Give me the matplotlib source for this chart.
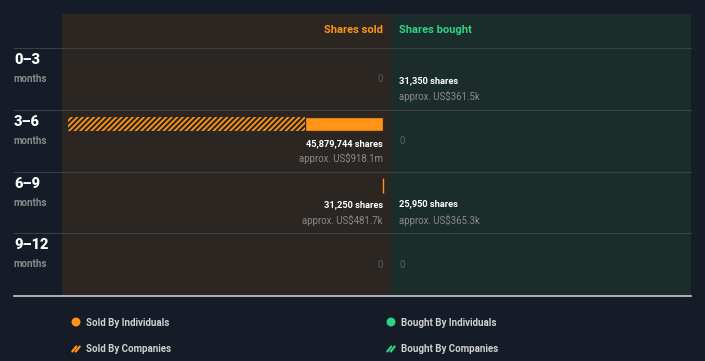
import matplotlib.pyplot as plt
import matplotlib.patches as mpatches

plt.rcParams['font.family'] = ['Roboto', 'DejaVu Sans']
plt.rcParams['hatch.linewidth'] = 1.3

periods = ['0–3', '3–6', '6–9', '9–12']
sold_individuals = [0, 11379744, 31250, 0]
sold_companies = [0, 34500000, 0, 0]
bought_individuals = [31350, 0, 25950, 0]
bought_companies = [0, 0, 0, 0]
sold_totals = ['0', '45,879,744 shares', '31,250 shares', '0']
sold_values = ['', 'approx. US$918.1m', 'approx. US$481.7k', '']
bought_totals = ['31,350 shares', '0', '25,950 shares', '0']
bought_values = ['approx. US$361.5k', '', 'approx. US$365.3k', '']

BG = '#151b27'
SOLD_BG = '#2b2621'
BOUGHT_BG = '#1a2d2b'
ORANGE = '#ff9416'
GREEN = '#2dd282'
GREY = '#8a8a8a'
DIM = '#5c5f60'

W, H = 705, 361
fig = plt.figure(figsize=(W / 100, H / 100), dpi=100)
fig.patch.set_facecolor(BG)

def fx(px):
    return px / W

def fy(py):
    return 1 - py / H

top, bot = 14, 295
header = 34
row_h = (bot - top - header) / 4
vmax = max(s + c for s, c in zip(sold_individuals, sold_companies))
s = vmax / 315.0  # shares per pixel

ax_s = fig.add_axes([fx(62), fy(bot), fx(391 - 62), (bot - top) / H])
ax_b = fig.add_axes([fx(391), fy(bot), fx(691 - 391), (bot - top) / H])
ylim = (4, -header / row_h)
ax_s.set_xlim(321 * s, -8 * s)
ax_b.set_xlim(-8 * s, 292 * s)
for ax, col in ((ax_s, SOLD_BG), (ax_b, BOUGHT_BG)):
    ax.set_ylim(*ylim)
    ax.set_facecolor(col)
    for sp in ax.spines.values():
        sp.set_visible(False)
    ax.set_xticks([])
    ax.set_yticks([])

ys = [i + 0.226 for i in range(4)]
bh = 0.23

# sold bars
for i in range(4):
    if sold_individuals[i] + sold_companies[i] == 0:
        continue
    ax_s.barh(ys[i], sold_individuals[i], height=bh, color=ORANGE,
              edgecolor=ORANGE if sold_individuals[i] < 3 * s else '#3a2a14',
              linewidth=1.0)
    if sold_companies[i] > 0:
        ax_s.barh(ys[i], sold_companies[i], left=sold_individuals[i], height=bh,
                  facecolor=SOLD_BG, edgecolor=ORANGE, hatch='//////', linewidth=0)

# bought bars
for i in range(4):
    if bought_individuals[i] > 3 * s:
        ax_b.barh(ys[i], bought_individuals[i], height=bh, color=GREEN)
    if bought_companies[i] > 3 * s:
        ax_b.barh(ys[i], bought_companies[i], left=bought_individuals[i],
                  height=bh, facecolor=BOUGHT_BG, edgecolor=GREEN, hatch='//////',
                  linewidth=0)

# labels
for i in range(4):
    if sold_values[i]:
        ax_s.text(0, i + 0.545, sold_totals[i], ha='right', va='center',
                  color='white', fontsize=6.7, fontweight='bold')
        ax_s.text(0, i + 0.79, sold_values[i], ha='right', va='center',
                  color=GREY, fontsize=6.9)
    else:
        ax_s.text(0, i + 0.51, sold_totals[i], ha='right', va='center',
                  color=DIM, fontsize=6.9)
    if bought_values[i]:
        ax_b.text(0, i + 0.525, bought_totals[i], ha='left', va='center',
                  color='white', fontsize=6.7, fontweight='bold')
        ax_b.text(0, i + 0.785, bought_values[i], ha='left', va='center',
                  color=GREY, fontsize=6.9)
    else:
        ax_b.text(0, i + 0.51, bought_totals[i], ha='left', va='center',
                  color=DIM, fontsize=6.9)

hy = (-header + 16.5) / row_h
ax_s.text(0, hy, 'Shares sold', ha='right', va='center',
          color=ORANGE, fontsize=8, fontweight='bold')
ax_b.text(0, hy, 'Shares bought', ha='left', va='center',
          color=GREEN, fontsize=8, fontweight='bold')

# grid lines and row labels in figure coords
for i in range(4):
    yline = top + header + i * row_h
    fig.add_artist(plt.Line2D([fx(14), fx(691)], [fy(yline), fy(yline)],
                              color='#3b4044', linewidth=0.8))
    fig.text(fx(14), fy(yline + 12), periods[i], ha='left', va='center',
             color='white', fontsize=10.5, fontweight='heavy')
    fig.text(fx(14), fy(yline + 31), 'months', ha='left', va='center',
             color=GREY, fontsize=7, fontweight='bold')
fig.add_artist(plt.Line2D([fx(14), fx(691)], [fy(bot + 0.5), fy(bot + 0.5)],
                          color='#c8ccce', linewidth=1.2))

# legend
legend_items = [
    (76, 322, 'Sold By Individuals', ORANGE, False),
    (76, 349, 'Sold By Companies', ORANGE, True),
    (391, 322, 'Bought By Individuals', GREEN, False),
    (391, 349, 'Bought By Companies', GREEN, True),
]
for x, y, label, col, hatched in legend_items:
    if hatched:
        for d in (-1.7, 1.7):
            fig.add_artist(plt.Line2D([fx(x + d - 2), fx(x + d + 2)],
                                      [fy(y + 2.5), fy(y - 2.5)], color=col,
                                      linewidth=1.6, solid_capstyle='round'))
    else:
        fig.add_artist(mpatches.Ellipse((fx(x), fy(y)), 7.5 / W, 7.5 / H,
                                        color=col, transform=fig.transFigure))
    fig.text(fx(x + 10), fy(y + 0.5), label, ha='left', va='center',
             color='#d0d0d0', fontsize=7, fontweight='bold')

fig.savefig('out.png', dpi=100, facecolor=BG)
